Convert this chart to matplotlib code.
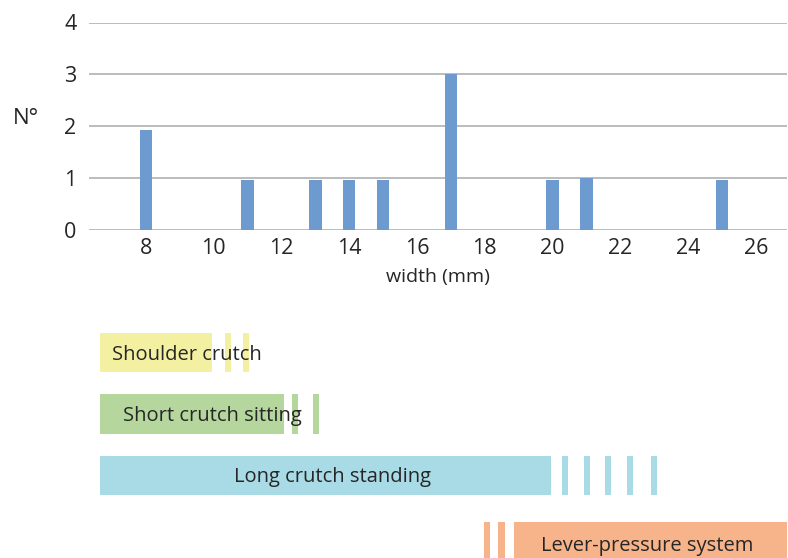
import matplotlib
matplotlib.use("Agg")
import matplotlib.pyplot as plt

plt.rcParams['font.family'] = ['Open Sans', 'DejaVu Sans']

# Histogram of crutch tip widths
widths = [8, 11, 13, 14, 15, 17, 20, 21, 25]
counts = [1.92, 0.97, 0.97, 0.97, 0.97, 3.0, 0.97, 1.0, 0.97]
x_ticks = [8, 10, 12, 14, 16, 18, 20, 22, 24, 26]
y_ticks = [0, 1, 2, 3, 4]

# Width ranges by device type (mm): solid span plus sparse extra values
devices = ["Shoulder crutch", "Short crutch sitting", "Long crutch standing", "Lever-pressure system"]
span_start = [6.64, 6.64, 6.64, 18.86]
span_end = [9.95, 12.07, 19.95, 27.0]
stripes = [
    [10.42, 10.95],
    [12.40, 13.02],
    [20.37, 21.02, 21.64, 22.29, 22.99],
    [18.07, 18.49],
]
device_colors = ["#f4f0a2", "#b5d79d", "#a9dbe6", "#f7b48b"]

BAR_COLOR = "#6d9acf"
GRID_COLOR = "#a9a9a9"
TEXT_COLOR = "#262626"
XLIM = (6.32, 26.92)

fig = plt.figure(figsize=(7.88, 5.58), dpi=100)

# --- histogram ---
ax = fig.add_axes([89 / 788, 1 - 230 / 558, 698 / 788, 207.5 / 558])
ax.bar(widths, counts, width=0.37, color=BAR_COLOR, zorder=3)
ax.set_xlim(*XLIM)
ax.set_ylim(0, 4)
ax.set_yticks(y_ticks)
ax.set_xticks(x_ticks)
ax.yaxis.grid(True, color=GRID_COLOR, linewidth=1.1, zorder=0)
ax.set_axisbelow(True)
for s in ax.spines.values():
    s.set_visible(False)
ax.tick_params(axis='both', length=0, labelsize=15.5, labelcolor=TEXT_COLOR)
ax.tick_params(axis='y', pad=9)
ax.tick_params(axis='x', pad=6)
ax.set_xlabel("width (mm)", fontsize=14, color=TEXT_COLOR, labelpad=6)
fig.text(26 / 788, 1 - 119 / 558, "N°", fontsize=16, color=TEXT_COLOR,
         ha='center', va='center')

# --- device width ranges ---
row_y = [0, 1, 2, 3.08]
bx = fig.add_axes([89 / 788, 0, 698 / 788, 238 / 558])
bx.set_xlim(*XLIM)
bx.set_ylim(3.341, -0.528)
bx.axis('off')
bar_h = 0.64
for y, s0, s1, st, c in zip(row_y, span_start, span_end, stripes, device_colors):
    bx.barh(y, s1 - s0, left=s0, height=bar_h, color=c, zorder=1)
    for xs in st:
        bx.barh(y, 0.19, left=xs - 0.095, height=bar_h, color=c, zorder=1)

label_x = [7.0, 7.32, 13.52, 22.79]
label_ha = ['left', 'left', 'center', 'center']
label_dy = [0.04, 0.03, 0.03, 0.06]
for y, dy, name, lx, ha in zip(row_y, label_dy, devices, label_x, label_ha):
    bx.text(lx, y + dy, name, fontsize=14.5, color=TEXT_COLOR, ha=ha, va='center', zorder=2)

fig.savefig("out.png", dpi=100)
